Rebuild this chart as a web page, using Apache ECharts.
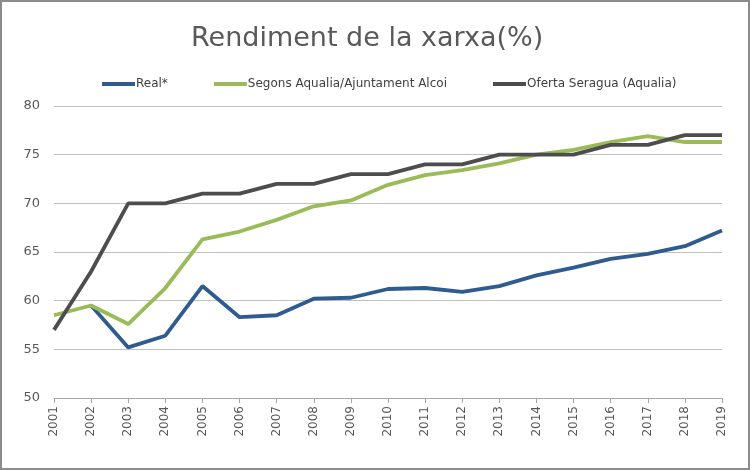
<!DOCTYPE html>
<html><head><meta charset="utf-8">
<script src="https://cdn.jsdelivr.net/npm/echarts@6/dist/echarts.min.js"></script>
<style>html,body{margin:0;padding:0;background:#fff}#c{width:750px;height:470px;box-sizing:border-box;border:2px solid #8c8c8c}</style>
</head><body><div id="c"></div>
<script>
const years = ['2001','2002','2003','2004','2005','2006','2007','2008','2009','2010','2011','2012','2013','2014','2015','2016','2017','2018','2019'];
const real = [null,59.5,55.2,56.4,61.5,58.3,58.5,60.2,60.3,61.2,61.3,60.9,61.5,62.6,63.4,64.3,64.8,65.6,67.2];
const segons = [58.5,59.5,57.6,61.3,66.3,67.1,68.3,69.7,70.3,71.9,72.9,73.4,74.1,75.0,75.5,76.3,76.9,76.3,76.3];
const oferta = [57,63,70,70,71,71,72,72,73,73,74,74,75,75,75,76,76,77,77];
const chart = echarts.init(document.getElementById('c'));
const font = 'DejaVu Sans';
chart.setOption({
  animation:false,
  title:{text:'Rendiment de la xarxa(%)',left:184,top:18,textStyle:{fontFamily:font,fontSize:27,fontWeight:'normal',color:'#595959'}},
  legend:{top:71,left:95,itemWidth:33,itemHeight:4,itemGap:46,icon:'rect',textStyle:{fontFamily:font,fontSize:12,color:'#404040',padding:[0,0,0,-4]},
    data:['Real*','Segons Aqualia/Ajuntament Alcoi','Oferta Seragua (Aqualia)']},
  grid:{left:52,right:26,top:104,bottom:70},
  xAxis:{type:'category',data:years,boundaryGap:false,
    axisLine:{lineStyle:{color:'#a6a6a6'}},axisTick:{show:true,length:5,lineStyle:{color:'#a6a6a6'}},
    axisLabel:{rotate:90,fontFamily:font,fontSize:12,color:'#595959',margin:8}},
  yAxis:{type:'value',min:50,max:80,interval:5,
    axisLine:{show:false},axisTick:{show:false},
    splitLine:{lineStyle:{color:'#c0c0c0',width:1}},
    axisLabel:{fontFamily:font,fontSize:13,color:'#595959',margin:14}},
  series:[
    {name:'Real*',type:'line',data:real,symbol:'none',lineStyle:{width:3.8,color:'#2f5b8e'},itemStyle:{color:'#2f5b8e'}},
    {name:'Segons Aqualia/Ajuntament Alcoi',type:'line',data:segons,symbol:'none',lineStyle:{width:3.8,color:'#9bbb59'},itemStyle:{color:'#9bbb59'}},
    {name:'Oferta Seragua (Aqualia)',type:'line',data:oferta,symbol:'none',lineStyle:{width:3.8,color:'#4d4d4d'},itemStyle:{color:'#4d4d4d'}}
  ]
});
</script></body></html>
